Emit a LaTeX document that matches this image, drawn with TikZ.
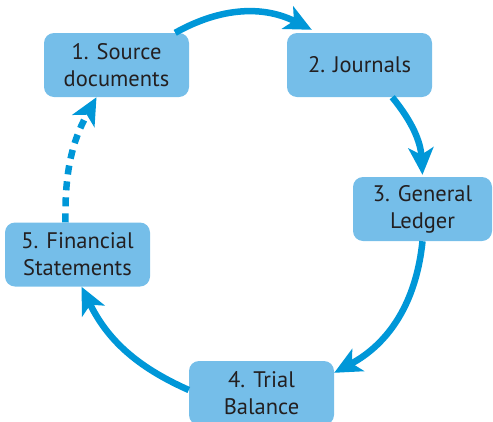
\documentclass[tikz,border=0pt]{standalone}
\usepackage{fontspec}
\setmainfont{PT Sans}
\usetikzlibrary{arrows.meta}
\definecolor{myBlue}{RGB}{0,151,216}
\definecolor{myLightBlue}{RGB}{117,190,233}
\definecolor{myText}{RGB}{35,31,32}

\tikzset{
	stagebox/.style={fill=myLightBlue,rounded corners=10pt,minimum width=145pt,minimum height=64pt,inner sep=0pt,align=center,text=myText,font=\fontsize{22.5}{27}\selectfont},
	flow/.style={myBlue,line width=6.5pt,-{Stealth[length=27pt,width=25pt,inset=7pt]}},
}

\begin{document}
\begin{tikzpicture}[x=1pt,y=1pt]
		\useasboundingbox (0,0) rectangle (493,-421);
		\node[stagebox] (b1) at (116.5,-65) {1. Source\\documents};
		\node[stagebox] (b2) at (359.5,-65) {2. Journals};
		\node[stagebox,minimum width=139pt] (b3) at (422.5,-209) {3. General\\Ledger};
		\node[stagebox] (b4) at (261.5,-393) {4. Trial\\Balance};
		\node[stagebox] (b5) at (77.5,-254.5) {5. Financial\\Statements};
		
		\draw[flow] ([xshift=-14pt]b1.north east) to[bend left=28] ([xshift=25pt,yshift=3pt]b2.north west);
		\draw[flow] ([xshift=-40pt]b2.south east) to[bend left=18] ([yshift=2pt]b3.north);
		\draw[flow] (b3.south) to[bend left=28] ([yshift=-12pt]b4.north east);
		\draw[flow] ([yshift=3pt]b4.west) to[bend left=20] ([xshift=4pt]b5.south);
		\draw[flow,dash pattern=on 9pt off 7pt] ([xshift=-12pt]b5.north) to[bend left=15] ([xshift=-20pt]b1.south);
	\end{tikzpicture}
\end{document}
